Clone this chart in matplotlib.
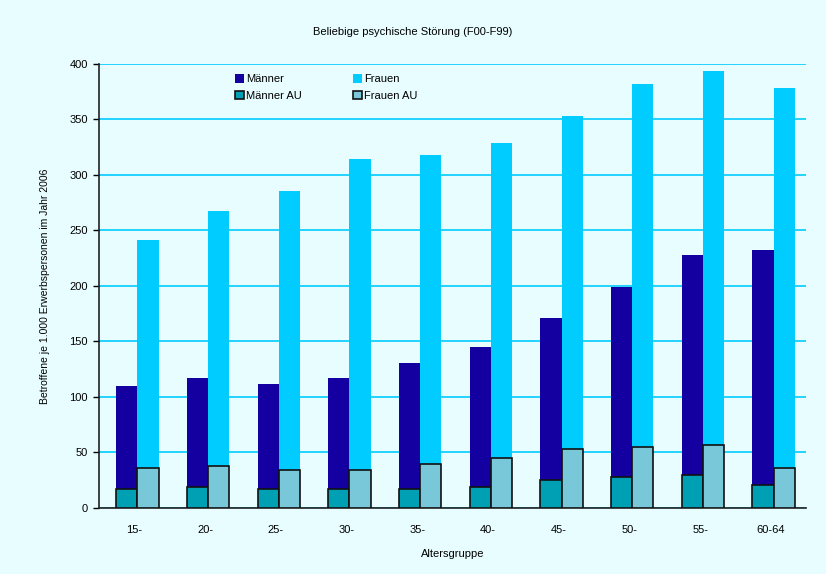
import numpy as np
import matplotlib.pyplot as plt

plt.rcParams['font.family'] = ['Liberation Sans', 'DejaVu Sans']

# Altersgruppen und Werte je 1.000 Erwerbspersonen
groups = ['15-', '20-', '25-', '30-', '35-', '40-', '45-', '50-', '55-', '60-64']
maenner = [110, 117, 112, 117, 131, 145, 171, 199, 228, 232]
frauen = [241, 268, 286, 314, 318, 329, 353, 382, 394, 378]
maenner_au = [17, 19, 17, 17, 17, 19, 25, 28, 30, 21]
frauen_au = [36, 38, 34, 34, 40, 45, 53, 55, 57, 36]

bg = '#E8FDFF'
grid_col = '#00CCFF'

fig = plt.figure(figsize=(8.26, 5.74), dpi=100, facecolor=bg)
ax = fig.add_axes([0.12, 0.115, 0.856, 0.7735], facecolor=bg)

x = np.arange(len(groups))
w = 0.3
off = 0.04

ax.bar(x - w / 2 + off, maenner, w, color='#1400A0', label='Männer', zorder=2)
ax.bar(x + w / 2 + off, frauen, w, color='#00CCFF', label='Frauen', zorder=2)
ax.bar(x - w / 2 + off, maenner_au, w, color='#00A0B4', edgecolor='#111111',
       linewidth=1.2, label='Männer AU', zorder=3)
ax.bar(x + w / 2 + off, frauen_au, w, color='#78C8DA', edgecolor='#111111',
       linewidth=1.2, label='Frauen AU', zorder=3)

ax.set_xlim(-0.5, len(groups) - 0.5)
ax.set_ylim(0, 400)
ax.set_yticks(np.arange(0, 401, 50))
ax.yaxis.grid(True, color=grid_col, linewidth=1.2, zorder=1)
ax.set_axisbelow(True)

ax.set_xticks(x)
ax.set_xticklabels(groups)
ax.tick_params(axis='x', length=0, pad=12, labelsize=8)
ax.tick_params(axis='y', length=4, width=1, labelsize=8, pad=4)

for s in ['top', 'right']:
    ax.spines[s].set_visible(False)
for s in ['left', 'bottom']:
    ax.spines[s].set_color('#222222')
    ax.spines[s].set_linewidth(1.2)

ax.set_xlabel('Altersgruppe', fontsize=8, labelpad=10)
ax.set_ylabel('Betroffene je 1.000 Erwerbspersonen im Jahr 2006', fontsize=7.5, labelpad=14)
fig.text(0.5, 0.944, 'Beliebige psychische Störung (F00-F99)', ha='center', va='center', fontsize=8)

handles, labels = ax.get_legend_handles_labels()
order = [0, 2, 1, 3]
leg = ax.legend([handles[i] for i in order], [labels[i] for i in order], ncol=2,
                loc='upper left', bbox_to_anchor=(0.178, 1.0), frameon=False,
                fontsize=8, handlelength=0.8, handleheight=0.8, handletextpad=0.2,
                columnspacing=4.6, labelspacing=0.6)

fig.savefig('out.png', dpi=100, facecolor=bg)
